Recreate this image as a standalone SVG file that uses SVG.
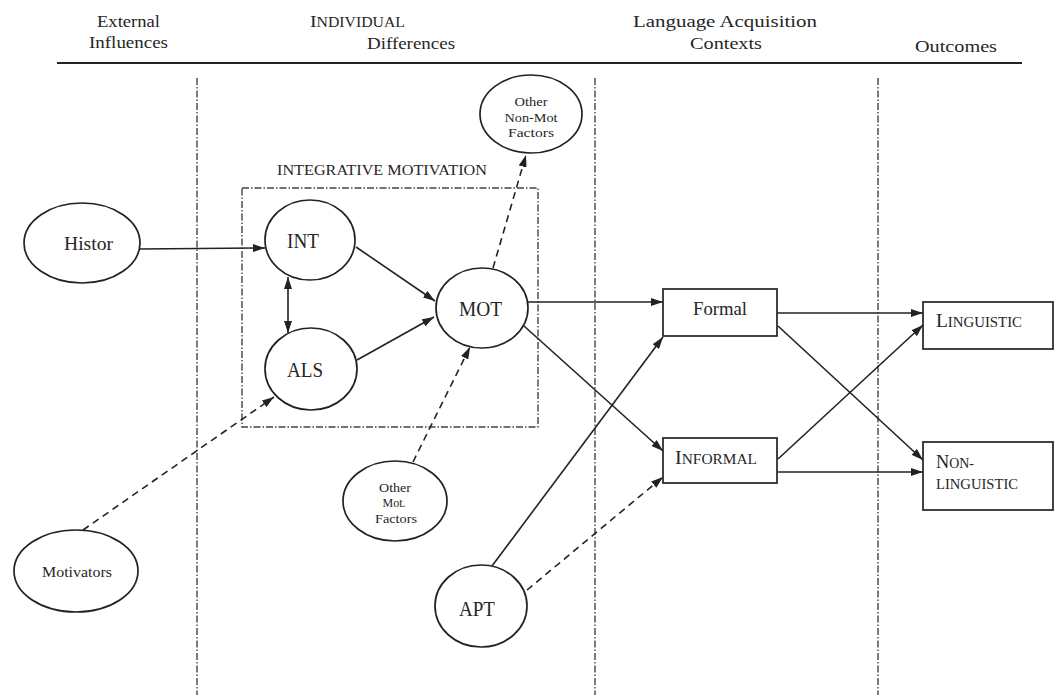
<svg xmlns="http://www.w3.org/2000/svg" width="1055" height="695" viewBox="0 0 1055 695">
<style>
text{font-family:"Liberation Serif","Times New Roman",serif;fill:#262626}
.hd{font-size:17.5px}
.nd ellipse,.nd rect{fill:none;stroke:#222;stroke-width:1.7}
.big{font-size:20px}
.sm{font-size:13px}
.lab{font-size:19px}
.sc{font-size:14.5px}
.sep{stroke:#444;stroke-width:1.4;stroke-dasharray:7 2 1.5 2;fill:none}
.c{stroke:#222;stroke-width:1.6;fill:none;marker-end:url(#ah)}
.d{stroke-dasharray:7 5}
</style>
<defs>
<marker id="ah" viewBox="0 0 12 8" refX="12" refY="4" markerWidth="12" markerHeight="8" markerUnits="userSpaceOnUse" orient="auto">
<path d="M0,0 L12,4 L0,8 Z" fill="#222"/>
</marker>
<marker id="ahs" viewBox="0 0 12 8" refX="0" refY="4" markerWidth="12" markerHeight="8" markerUnits="userSpaceOnUse" orient="auto">
<path d="M12,0 L0,4 L12,8 Z" fill="#222"/>
</marker>
</defs>
<rect width="1055" height="695" fill="#ffffff"/>

<g id="header">
<text class="hd" x="97" y="27" textLength="63" lengthAdjust="spacingAndGlyphs">External</text>
<text class="hd" x="89" y="48" textLength="79" lengthAdjust="spacingAndGlyphs">Influences</text>
<text class="hd" x="310" y="27" textLength="95" lengthAdjust="spacingAndGlyphs"><tspan>I</tspan><tspan font-size="14">NDIVIDUAL</tspan></text>
<text class="hd" x="367" y="49" textLength="88" lengthAdjust="spacingAndGlyphs">Differences</text>
<text class="hd" x="633" y="27" textLength="184" lengthAdjust="spacingAndGlyphs">Language Acquisition</text>
<text class="hd" x="690" y="49" textLength="72" lengthAdjust="spacingAndGlyphs">Contexts</text>
<text class="hd" x="915" y="52" textLength="82" lengthAdjust="spacingAndGlyphs">Outcomes</text>
<line x1="57" y1="63" x2="1022" y2="63" stroke="#222" stroke-width="2.2"/>
</g>

<g id="separators">
<line class="sep" x1="197" y1="78" x2="197" y2="695"/>
<line class="sep" x1="595" y1="78" x2="595" y2="695"/>
<line class="sep" x1="878" y1="78" x2="878" y2="695"/>
</g>

<g id="integrative-motivation">
<rect class="sep" x="242" y="188" width="296" height="239"/>
<text x="277" y="175" font-size="14" textLength="210" lengthAdjust="spacingAndGlyphs">INTEGRATIVE MOTIVATION</text>
</g>

<g id="connectors">
<line class="c" x1="140" y1="249" x2="265" y2="248"/>
<line class="c" x1="288" y1="277" x2="288" y2="333" marker-start="url(#ahs)"/>
<line class="c" x1="356" y1="247" x2="435" y2="301"/>
<line class="c" x1="357" y1="360" x2="434" y2="317"/>
<line class="c d" x1="493" y1="268" x2="526" y2="155"/>
<line class="c d" x1="83" y1="530" x2="274" y2="397"/>
<line class="c d" x1="413" y1="462" x2="470" y2="347"/>
<line class="c" x1="528" y1="302" x2="663" y2="302"/>
<line class="c" x1="524" y1="326" x2="663" y2="451"/>
<line class="c" x1="492" y1="566" x2="663" y2="337"/>
<line class="c d" x1="527" y1="590" x2="663" y2="477"/>
<line class="c" x1="777" y1="313" x2="923" y2="313"/>
<line class="c" x1="778" y1="326" x2="923" y2="460"/>
<line class="c" x1="778" y1="459" x2="923" y2="325"/>
<line class="c" x1="778" y1="472" x2="923" y2="472"/>
</g>

<g id="histor" class="nd">
<ellipse cx="82" cy="243" rx="58" ry="40"/>
<text class="lab" x="64" y="250" textLength="49" lengthAdjust="spacingAndGlyphs">Histor</text>
</g>
<g id="motivators" class="nd">
<ellipse cx="76" cy="571" rx="62" ry="41"/>
<text x="42" y="577" font-size="15" textLength="70" lengthAdjust="spacingAndGlyphs">Motivators</text>
</g>
<g id="int" class="nd">
<ellipse cx="310" cy="240" rx="45" ry="40"/>
<text class="big" x="287" y="248" textLength="32" lengthAdjust="spacingAndGlyphs">INT</text>
</g>
<g id="als" class="nd">
<ellipse cx="311" cy="369" rx="46" ry="41"/>
<text class="big" x="287" y="377" textLength="36" lengthAdjust="spacingAndGlyphs">ALS</text>
</g>
<g id="mot" class="nd">
<ellipse cx="482" cy="308" rx="46" ry="40"/>
<text class="big" x="459" y="316" textLength="43" lengthAdjust="spacingAndGlyphs">MOT</text>
</g>
<g id="other-non-mot" class="nd">
<ellipse cx="531" cy="114" rx="51" ry="39"/>
<text class="sm" x="531" y="106" text-anchor="middle" textLength="33" lengthAdjust="spacingAndGlyphs">Other</text>
<text class="sm" x="531" y="122" text-anchor="middle" textLength="53" lengthAdjust="spacingAndGlyphs">Non-Mot</text>
<text class="sm" x="531" y="137" text-anchor="middle" textLength="46" lengthAdjust="spacingAndGlyphs">Factors</text>
</g>
<g id="other-mot" class="nd">
<ellipse cx="395" cy="501" rx="52" ry="40"/>
<text class="sm" x="395" y="492" text-anchor="middle" textLength="32" lengthAdjust="spacingAndGlyphs">Other</text>
<text class="sm" x="394" y="507" text-anchor="middle" textLength="23" lengthAdjust="spacingAndGlyphs">Mot.</text>
<text class="sm" x="396" y="523" text-anchor="middle" textLength="42" lengthAdjust="spacingAndGlyphs">Factors</text>
</g>
<g id="apt" class="nd">
<ellipse cx="481" cy="606" rx="46" ry="41"/>
<text class="big" x="459" y="616" textLength="36" lengthAdjust="spacingAndGlyphs">APT</text>
</g>
<g id="formal" class="nd">
<rect x="663" y="289" width="114" height="47"/>
<text class="lab" x="693" y="315" textLength="54" lengthAdjust="spacingAndGlyphs">Formal</text>
</g>
<g id="informal" class="nd">
<rect x="663" y="438" width="114" height="45"/>
<text class="lab" x="675" y="464" textLength="82" lengthAdjust="spacingAndGlyphs"><tspan>I</tspan><tspan class="sc">NFORMAL</tspan></text>
</g>
<g id="linguistic" class="nd">
<rect x="923" y="302" width="130" height="47"/>
<text class="lab" x="936" y="327" textLength="86" lengthAdjust="spacingAndGlyphs"><tspan>L</tspan><tspan class="sc">INGUISTIC</tspan></text>
</g>
<g id="non-linguistic" class="nd">
<rect x="923" y="442" width="130" height="68"/>
<text class="lab" x="936" y="468" textLength="38" lengthAdjust="spacingAndGlyphs"><tspan>N</tspan><tspan class="sc">ON-</tspan></text>
<text class="sc" x="936" y="489" textLength="82" lengthAdjust="spacingAndGlyphs">LINGUISTIC</text>
</g>
</svg>
